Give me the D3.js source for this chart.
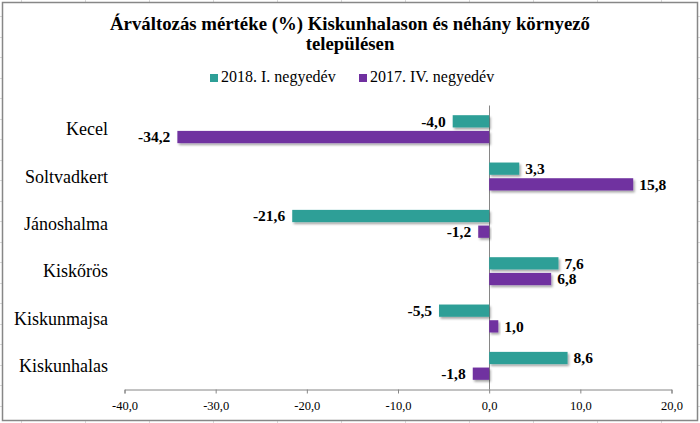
<!DOCTYPE html>
<html>
<head>
<meta charset="utf-8">
<script src="https://cdn.jsdelivr.net/npm/d3@7"></script>
<style>
  body { margin: 0; background: #fff; }
  svg { display: block; font-family: "Liberation Serif", "Times New Roman", serif; }
  .axis path, .axis line { stroke: #868686; }
  .axis text { font-size: 12.5px; fill: #000; font-family: "Liberation Serif", serif; }
</style>
</head>
<body>
<svg id="chart" width="700" height="423"></svg>
<script>
var categories = ['Kecel', 'Soltvadkert', 'Jánoshalma', 'Kiskőrös', 'Kiskunmajsa', 'Kiskunhalas'];
var seriesNames = ['2018. I. negyedév', '2017. IV. negyedév'];
var values2018Q1 = [-4.0, 3.3, -21.6, 7.6, -5.5, 8.6];
var values2017Q4 = [-34.2, 15.8, -1.2, 6.8, 1.0, -1.8];
var seriesColors = ['#2d9f97', '#7030a0'];
var tickValues = [-40, -30, -20, -10, 0, 10, 20];

var series = [values2018Q1, values2017Q4];
var fmt = function (v) { return v.toFixed(1).replace('.', ','); };

var svg = d3.select('#chart');

// spreadsheet cells behind the chart
var grid = svg.append('g').attr('stroke', '#d9d9d9').attr('stroke-width', 1);
d3.range(21, 700, 64).forEach(function (gx) {
  grid.append('line').attr('x1', gx + 0.5).attr('x2', gx + 0.5).attr('y1', 0).attr('y2', 423);
});
d3.range(16, 423, 20.5).forEach(function (gy) {
  grid.append('line').attr('x1', 0).attr('x2', 700).attr('y1', Math.round(gy) + 0.5).attr('y2', Math.round(gy) + 0.5);
});

svg.append('rect')
    .attr('x', 2.5).attr('y', 2.5)
    .attr('width', 695).attr('height', 418)
    .attr('fill', '#fff')
    .attr('stroke', '#878787')
    .attr('stroke-width', 1.5);

var defs = svg.append('defs');
defs.append('filter')
    .attr('id', 'shadow')
    .attr('x', '-10%').attr('y', '-30%').attr('width', '130%').attr('height', '190%')
  .append('feDropShadow')
    .attr('dx', 1.5).attr('dy', 2)
    .attr('stdDeviation', 1)
    .attr('flood-color', '#000')
    .attr('flood-opacity', 0.35);

// title
var title = svg.append('text')
    .attr('text-anchor', 'middle')
    .attr('font-weight', 'bold')
    .attr('font-size', '18.8px');
title.append('tspan').attr('x', 350).attr('y', 29.5).text('Árváltozás mértéke (%) Kiskunhalason és néhány környező');
title.append('tspan').attr('x', 350).attr('y', 49.5).text('településen');

// legend
var legendX = [210, 359];
var legend = svg.append('g').selectAll('g')
    .data(seriesNames)
    .enter().append('g')
    .attr('transform', function (d, i) { return 'translate(' + legendX[i] + ',0)'; });
legend.append('rect')
    .attr('x', 0).attr('y', 74)
    .attr('width', 8).attr('height', 8)
    .attr('fill', function (d, i) { return seriesColors[i]; });
legend.append('text')
    .attr('x', 11).attr('y', 82)
    .attr('font-size', '16px')
    .text(function (d) { return d; });

// scales
var x = d3.scaleLinear().domain([-40, 20]).range([124.5, 671.5]);
var y = d3.scaleBand().domain(categories).range([105.5, 389.5])
    .paddingInner(0.41).paddingOuter(0.205);
var ySub = d3.scaleBand().domain([0, 1]).range([0, y.bandwidth()]).paddingInner(0.22);

var axisY = 389.5;

svg.append('g')
    .attr('class', 'axis')
    .attr('transform', 'translate(0,' + axisY + ')')
    .call(d3.axisBottom(x).tickValues(tickValues).tickFormat(fmt).tickSize(4).tickSizeOuter(4).tickPadding(8));

// zero line
svg.append('line')
    .attr('x1', Math.round(x(0)) + 0.5).attr('x2', Math.round(x(0)) + 0.5)
    .attr('y1', 105.5).attr('y2', axisY)
    .attr('stroke', '#868686');

// category labels
svg.append('g').selectAll('text')
    .data(categories)
    .enter().append('text')
    .attr('x', 108)
    .attr('y', function (d) { return y(d) + y.bandwidth() / 2; })
    .attr('dy', '0.35em')
    .attr('text-anchor', 'end')
    .attr('font-size', '18px')
    .text(function (d) { return d; });

// bars
var rows = [];
categories.forEach(function (c, ci) {
  series.forEach(function (s, si) {
    rows.push({ cat: c, s: si, v: s[ci] });
  });
});

svg.append('g').selectAll('rect')
    .data(rows)
    .enter().append('rect')
    .attr('x', function (d) { return x(Math.min(0, d.v)); })
    .attr('y', function (d) { return y(d.cat) + ySub(d.s); })
    .attr('width', function (d) { return Math.abs(x(d.v) - x(0)); })
    .attr('height', ySub.bandwidth())
    .attr('fill', function (d) { return seriesColors[d.s]; })
    .attr('filter', 'url(#shadow)');

svg.append('g').selectAll('text')
    .data(rows)
    .enter().append('text')
    .attr('x', function (d) { return d.v < 0 ? x(d.v) - 7 : x(d.v) + 6; })
    .attr('y', function (d) { return y(d.cat) + ySub(d.s) + ySub.bandwidth() / 2; })
    .attr('dy', '0.35em')
    .attr('text-anchor', function (d) { return d.v < 0 ? 'end' : 'start'; })
    .attr('font-weight', 'bold')
    .attr('font-size', '15.5px')
    .text(function (d) { return fmt(d.v); });
</script>
</body>
</html>
